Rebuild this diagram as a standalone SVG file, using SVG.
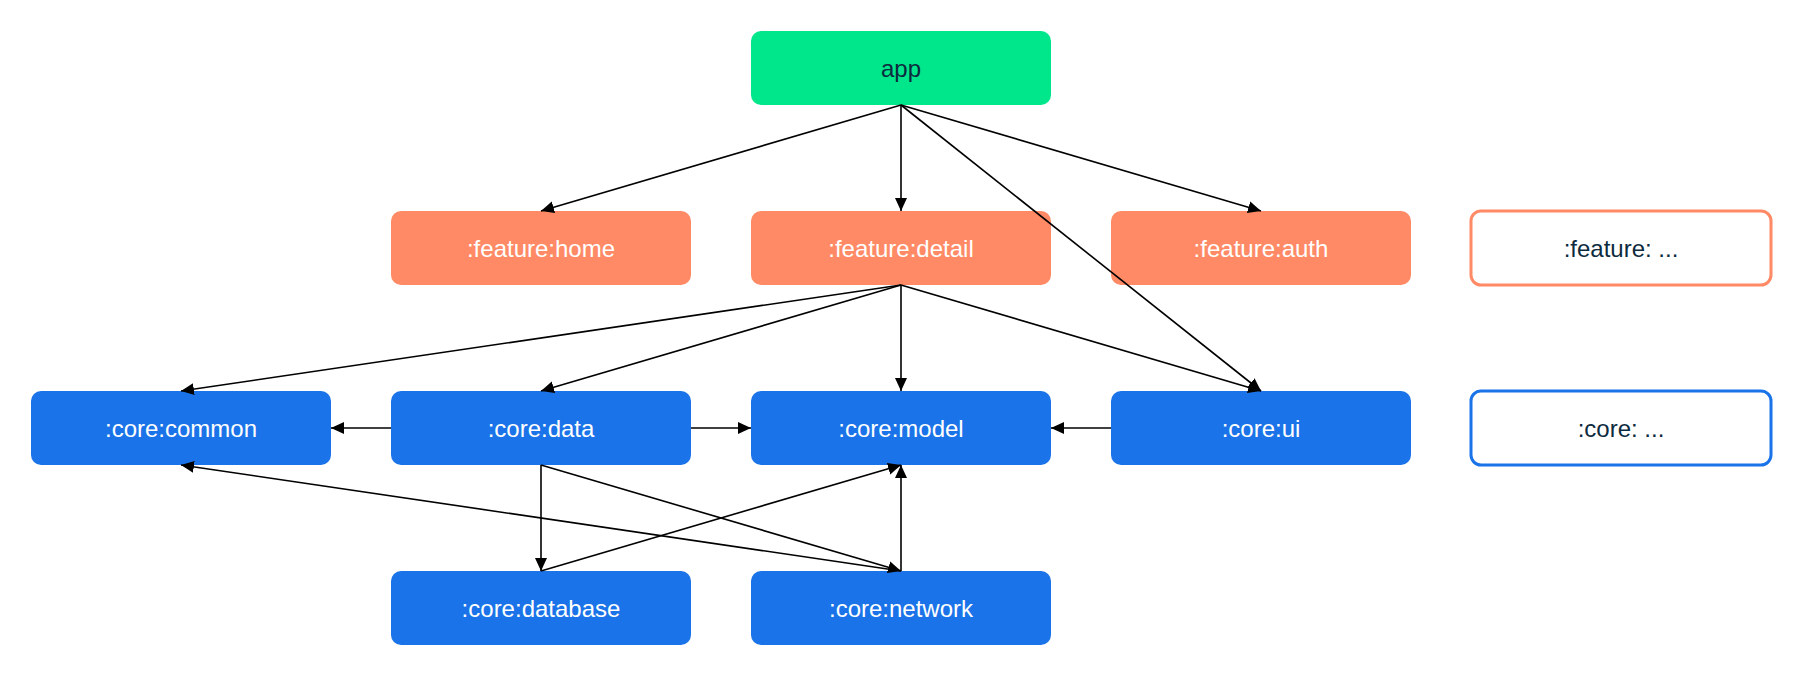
<svg xmlns="http://www.w3.org/2000/svg" width="1803" height="677" viewBox="0 0 1803 677">
<style>
.n{stroke:none}
.app{fill:#00E68A}
.feat{fill:#FF8A65}
.core{fill:#1A73E8}
.ofeat{fill:#FFFFFF;stroke:#FF8A65;stroke-width:3}
.ocore{fill:#FFFFFF;stroke:#1A73E8;stroke-width:3}
text{font-family:"Liberation Sans",Arial,sans-serif;font-size:24px;text-anchor:middle;dominant-baseline:central}
.w{fill:#FFFFFF}
.d{fill:#0D2B3E}
.e{fill:none;stroke:#000;stroke-width:1.6;marker-end:url(#ah)}
</style>
<defs>
<marker id="ah" markerUnits="userSpaceOnUse" markerWidth="13" markerHeight="13" viewBox="0 0 13 13" refX="13" refY="6.5" orient="auto">
<path d="M0,0.5 L13,6.5 L0,12.5 Z" fill="#000"/>
</marker>
</defs>
<rect width="1803" height="677" fill="#FFFFFF"/>
<g id="app"><rect class="app" x="751" y="31" width="300" height="74" rx="10"/><text class="d" x="901" y="68">app</text></g>
<g id="feature-home"><rect class="feat" x="391" y="211" width="300" height="74" rx="10"/><text class="w" x="541" y="248">:feature:home</text></g>
<g id="feature-detail"><rect class="feat" x="751" y="211" width="300" height="74" rx="10"/><text class="w" x="901" y="248">:feature:detail</text></g>
<g id="feature-auth"><rect class="feat" x="1111" y="211" width="300" height="74" rx="10"/><text class="w" x="1261" y="248">:feature:auth</text></g>
<g id="feature-more"><rect class="ofeat" x="1471" y="211" width="300" height="74" rx="10"/><text class="d" x="1621" y="248">:feature: ...</text></g>
<g id="core-common"><rect class="core" x="31" y="391" width="300" height="74" rx="10"/><text class="w" x="181" y="428">:core:common</text></g>
<g id="core-data"><rect class="core" x="391" y="391" width="300" height="74" rx="10"/><text class="w" x="541" y="428">:core:data</text></g>
<g id="core-model"><rect class="core" x="751" y="391" width="300" height="74" rx="10"/><text class="w" x="901" y="428">:core:model</text></g>
<g id="core-ui"><rect class="core" x="1111" y="391" width="300" height="74" rx="10"/><text class="w" x="1261" y="428">:core:ui</text></g>
<g id="core-more"><rect class="ocore" x="1471" y="391" width="300" height="74" rx="10"/><text class="d" x="1621" y="428">:core: ...</text></g>
<g id="core-database"><rect class="core" x="391" y="571" width="300" height="74" rx="10"/><text class="w" x="541" y="608">:core:database</text></g>
<g id="core-network"><rect class="core" x="751" y="571" width="300" height="74" rx="10"/><text class="w" x="901" y="608">:core:network</text></g>
<g id="connectors">
<line class="e" x1="901" y1="105" x2="541" y2="211"/>
<line class="e" x1="901" y1="105" x2="901" y2="211"/>
<line class="e" x1="901" y1="105" x2="1261" y2="211"/>
<line class="e" x1="901" y1="105" x2="1261" y2="391"/>
<line class="e" x1="901" y1="285" x2="181" y2="391"/>
<line class="e" x1="901" y1="285" x2="541" y2="391"/>
<line class="e" x1="901" y1="285" x2="901" y2="391"/>
<line class="e" x1="901" y1="285" x2="1261" y2="391"/>
<line class="e" x1="391" y1="428" x2="331" y2="428"/>
<line class="e" x1="691" y1="428" x2="751" y2="428"/>
<line class="e" x1="1111" y1="428" x2="1051" y2="428"/>
<line class="e" x1="541" y1="465" x2="541" y2="571"/>
<line class="e" x1="541" y1="465" x2="901" y2="571"/>
<line class="e" x1="541" y1="571" x2="901" y2="465"/>
<line class="e" x1="901" y1="571" x2="901" y2="465"/>
<line class="e" x1="901" y1="571" x2="181" y2="465"/>
</g>
</svg>
